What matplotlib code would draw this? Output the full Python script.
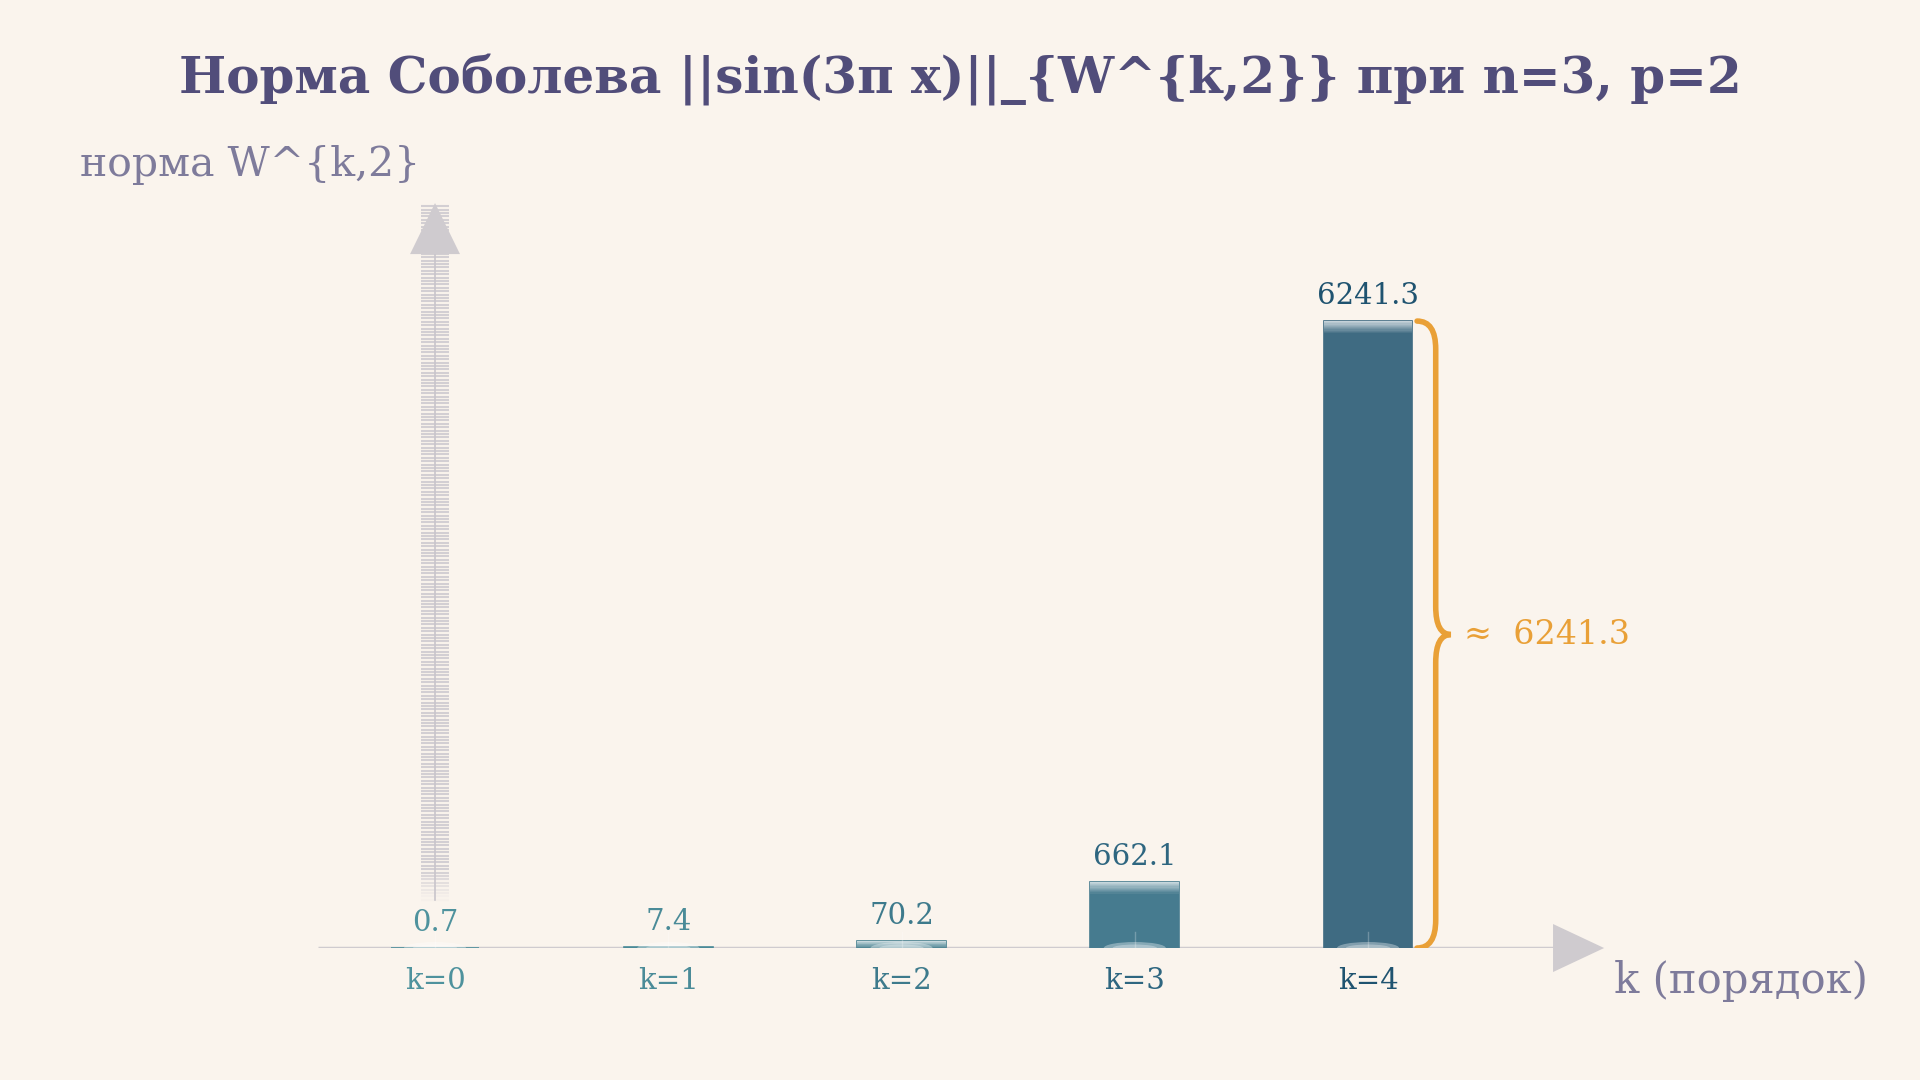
import numpy as np
import matplotlib
matplotlib.use('Agg')
import matplotlib.pyplot as plt
from matplotlib.patches import Polygon, PathPatch, Ellipse
from matplotlib.path import Path

plt.rcParams['font.family'] = ['DejaVu Serif']

# данные: норма Соболева по порядку k
ks = [0, 1, 2, 3, 4]
k_labels = ['k=0', 'k=1', 'k=2', 'k=3', 'k=4']
norms = [0.7, 7.4, 70.2, 662.1, 6241.3]
value_labels = ['0.7', '7.4', '70.2', '662.1', '6241.3']

bg = '#FAF4ED'
bar_colors = ['#4A8D9A', '#4A8A98', '#46808F', '#467B8F', '#3F6B82']
text_colors = ['#4E929D', '#4A8B98', '#3D7A8C', '#2E6680', '#1F5370']
axis_gray = '#CFCBCF'
orange = '#E9A037'

fig = plt.figure(figsize=(19.2, 10.8), dpi=100, facecolor=bg)
ax = fig.add_axes([0.1634, 0.1222, 0.6767, 0.7069])
ax.set_facecolor(bg)
ax.set_xlim(-0.52, 5.05)
ax.set_ylim(0, 7600)
ax.axis('off')

width = 0.38
ax.bar(ks, norms, width=width, color=bar_colors, edgecolor=bar_colors, lw=1.2, zorder=3)

# светлая полоса сверху столбцов
px = 6241.3 / 627.0  # единиц данных на пиксель
n_slices = 10
for k, v, c in zip(ks, norms, bar_colors):
    if v > 3 * px:
        band = min(12 * px, v)
        step = band / n_slices
        for i in range(n_slices):
            a = 0.7 * (1 - i / n_slices)
            ax.bar(k, step, bottom=v - (i + 1) * step, width=width,
                   color='white', alpha=a, lw=0, zorder=4)
    # мягкое свечение у основания
    ax.add_patch(Ellipse((k, 0), width * 0.7, 12 * px, color='white',
                         alpha=0.35, lw=0, zorder=5))
    ax.add_patch(Ellipse((k, 0), width * 0.5, 7 * px, color='white',
                         alpha=0.3, lw=0, zorder=5))
    ax.plot([k, k], [0, 16 * px], color='white', alpha=0.25, lw=1, zorder=5)

# ось x со стрелкой
ax.plot([-0.5, 4.8], [0, 0], color=axis_gray, lw=2.5, zorder=2, solid_capstyle='butt')
ax.add_patch(Polygon([[4.793, 24 * px], [5.012, 0], [4.793, -24 * px]],
                     closed=True, color=axis_gray, lw=0, clip_on=False, zorder=2))

# ось y: "лестница" со стрелкой
ys = np.arange(480, 7400, 3.4 * px)
alphas = np.clip((ys - 480) / (30 * px), 0.1, 1.0)
for y, a in zip(ys, alphas):
    ax.plot([-0.058, 0.058], [y, y], color='#D3CFD3', lw=1.5, alpha=a, zorder=1,
            solid_capstyle='butt')
ax.plot([0, 0], [480, 6920], color='#C9C5CB', lw=1.2, zorder=1)
ax.add_patch(Polygon([[-0.107, 6908], [0, 7416], [0.107, 6908]],
                     closed=True, color=axis_gray, lw=0, clip_on=False, zorder=2))

# подписи значений и категорий
for k, v, lab, tc in zip(ks, norms, value_labels, text_colors):
    ax.annotate(lab, (k, v), xytext=(0, 18), textcoords='offset points',
                ha='center', va='center', fontsize=21, color=tc, zorder=6)
for k, lab, tc in zip(ks, k_labels, text_colors):
    ax.annotate(lab, (k, 0), xytext=(0, -24), textcoords='offset points',
                ha='center', va='center', fontsize=21, color=tc, zorder=6)

# фигурная скобка у k=4
top = norms[-1]
mid = top / 2
x0, x1, x2 = 4.21, 4.29, 4.355
r = 28 * px
verts = [(x0, top), (x1, top), (x1, top - r),
         (x1, mid + r),
         (x1, mid), (x2, mid),
         (x1, mid), (x1, mid - r),
         (x1, r),
         (x1, 0), (x0, 0)]
codes = [Path.MOVETO, Path.CURVE3, Path.CURVE3,
         Path.LINETO,
         Path.CURVE3, Path.CURVE3,
         Path.CURVE3, Path.CURVE3,
         Path.LINETO,
         Path.CURVE3, Path.CURVE3]
ax.add_patch(PathPatch(Path(verts, codes), fill=False, edgecolor=orange, lw=4,
                       capstyle='round', zorder=5))
ax.text(4.41, mid, '≈  ' + value_labels[-1], ha='left', va='center',
        fontsize=24, color=orange)

fig.text(0.5, 0.926, 'Норма Соболева ||sin(3π x)||_{W^{k,2}} при n=3, p=2',
         ha='center', va='center', fontsize=36, fontweight='bold', color='#514D7A')
fig.text(0.0417, 0.847, 'норма W^{k,2}', ha='left', va='center',
         fontsize=29.5, color='#7E7B9B')
fig.text(0.8406, 0.0917, 'k (порядок)', ha='left', va='center',
         fontsize=30, color='#7E7B9B')

fig.savefig('out.png', dpi=100, facecolor=bg)
